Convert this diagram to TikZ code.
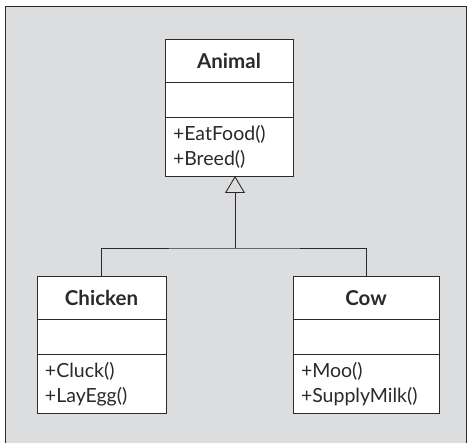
\documentclass[tikz,border=0pt]{standalone}
\usepackage{fontspec}
\setmainfont{Lato}
\usetikzlibrary{arrows.meta,positioning}
\definecolor{panel}{HTML}{DCDDDF}
\definecolor{ink}{HTML}{2A2A2A}

\begin{document}
\begin{tikzpicture}[x=1pt, y=-1pt,
    part/.style={draw=ink, fill=white, line width=0.9pt, outer sep=0pt, inner sep=0pt, text=ink, font=\fontsize{19.5}{25}\selectfont},
    head/.style={part, minimum height=43pt, font=\fontsize{20.5}{25}\selectfont\bfseries},
    attrs/.style={part, minimum height=35pt},
    ops/.style={part, minimum height=59pt, align=left, inner xsep=8pt},
    arr/.style={-{Triangle[open, length=17pt, width=20pt]}, draw=ink, line width=0.9pt}
]
\useasboundingbox (0,0) rectangle (467,443);
\fill[panel] (5,7) rectangle (467,443);
\draw[ink, line width=1pt] (5,443) -- (5,7) -- (466.5,7) -- (466.5,443);

% Animal
\node[head, minimum width=128pt] (animal) at (229,60.5) {Animal};
\node[attrs, minimum width=128pt, below=0pt of animal] (aattr) {};
\node[ops, minimum width=128pt, text width=112pt, below=0pt of aattr] (aops) {+EatFood()\\+Breed()};

% Chicken
\node[head, minimum width=129pt] (chicken) at (101.5,298) {Chicken};
\node[attrs, minimum width=129pt, below=0pt of chicken] (cattr) {};
\node[ops, minimum width=129pt, text width=113pt, below=0pt of cattr] (cops) {+Cluck()\\+LayEgg()};

% Cow
\node[head, minimum width=146pt] (cow) at (366,298) {Cow};
\node[attrs, minimum width=146pt, below=0pt of cow] (wattr) {};
\node[ops, minimum width=146pt, text width=130pt, inner xsep=7pt, below=0pt of wattr] (wops) {+Moo()\\+SupplyMilk()};

\coordinate (joint) at (235,248);
\draw[ink, line width=0.9pt] (chicken.north) |- (joint) -| (cow.north);
\draw[arr] (joint) -- (joint |- aops.south);
\end{tikzpicture}
\end{document}
